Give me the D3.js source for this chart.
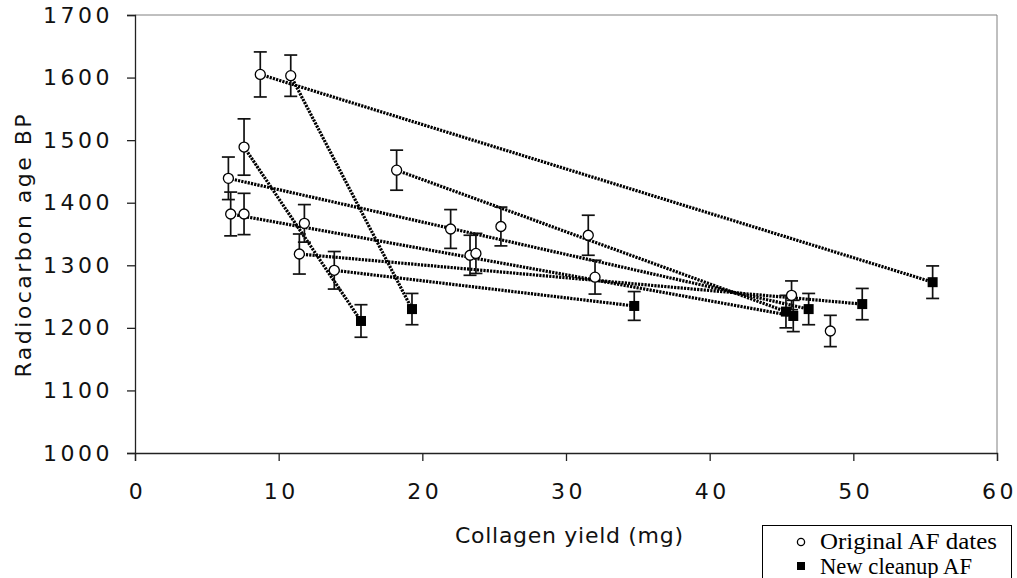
<!DOCTYPE html>
<html>
<head>
<meta charset="utf-8">
<script src="https://cdn.jsdelivr.net/npm/d3@7"></script>
<style>
  html, body { margin: 0; padding: 0; background: #fff; }
  svg { display: block; }
</style>
</head>
<body>
<div id="chart"></div>
<script>
// original AF dates (open circles)
var origX   = [8.72, 10.84, 7.59, 6.50, 6.66, 7.59, 11.79, 11.44, 13.87, 18.21, 21.97, 23.32, 23.73, 25.47, 31.55, 32.02, 45.70, 48.40];
var origY   = [1605, 1603, 1489, 1439, 1382, 1382, 1367, 1318, 1292, 1452, 1358, 1316, 1319, 1362, 1348, 1281, 1252, 1195];
var origErr = [36, 33, 45, 34, 35, 33, 30, 32, 30, 32, 31, 32, 32, 31, 32, 27, 23, 25];

// new cleanup AF dates (filled squares)
var newX   = [15.73, 19.28, 34.75, 45.31, 45.82, 46.89, 50.62, 55.52];
var newY   = [1211, 1230, 1235, 1226, 1219, 1230, 1238, 1273];
var newErr = [26, 25, 23, 26, 25, 25, 25, 26];

// dotted connectors: [original index, new index]
var links = [[0, 7], [1, 1], [2, 0], [3, 5], [9, 3], [4, 4], [7, 6], [8, 2]];

var xTicks = [0, 10, 20, 30, 40, 50, 60];
var yTicks = [1000, 1100, 1200, 1300, 1400, 1500, 1600, 1700];
var legendLabels = ["Original AF dates", "New cleanup AF"];

var W = 1017, H = 578;
var plotLeft = 135, plotRight = 997, plotTop = 15, plotBottom = 453;

var svg = d3.select("#chart").append("svg")
  .attr("width", W)
  .attr("height", H);

var x = d3.scaleLinear().domain([0, 60]).range([plotLeft, plotRight]);
var y = d3.scaleLinear().domain([1000, 1700]).range([plotBottom, plotTop]);

// plot frame (top and right are grey)
svg.append("line").attr("x1", plotLeft).attr("x2", plotRight).attr("y1", plotTop).attr("y2", plotTop)
  .attr("stroke", "#808080").attr("stroke-width", 1);
svg.append("line").attr("x1", plotRight).attr("x2", plotRight).attr("y1", plotTop).attr("y2", plotBottom)
  .attr("stroke", "#808080").attr("stroke-width", 1);

// axes
var xAxis = d3.axisBottom(x).tickValues(xTicks).tickFormat(d3.format("d"))
  .tickSizeOuter(0).tickSize(8).tickPadding(22);
var yAxis = d3.axisLeft(y).tickValues(yTicks).tickFormat(d3.format("d"))
  .tickSizeOuter(0).tickSize(8).tickPadding(12);

var gx = svg.append("g").attr("transform", "translate(0," + plotBottom + ")").call(xAxis);
var gy = svg.append("g").attr("transform", "translate(" + plotLeft + ",0)").call(yAxis);

[gx, gy].forEach(function(g) {
  g.select(".domain").attr("stroke", "#222").attr("stroke-width", 1.3);
  g.selectAll(".tick line").attr("stroke", "#222").attr("stroke-width", 1.3);
  g.selectAll(".tick text")
    .attr("fill", "#111")
    .style("font-family", "'DejaVu Sans', sans-serif")
    .style("font-size", "22px")
    .style("letter-spacing", "3.5px");
});
gx.selectAll(".tick text").attr("dx", "2px");
gy.selectAll(".tick text").attr("dx", "-2px");

// axis titles
svg.append("text")
  .attr("x", 569).attr("y", 543)
  .attr("text-anchor", "middle")
  .attr("textLength", 228).attr("lengthAdjust", "spacing")
  .style("font-family", "'DejaVu Sans', sans-serif")
  .style("font-size", "22px")
  .attr("fill", "#111")
  .text("Collagen yield (mg)");

svg.append("text")
  .attr("transform", "translate(31,246) rotate(-90)")
  .attr("text-anchor", "middle")
  .attr("textLength", 263).attr("lengthAdjust", "spacing")
  .style("font-family", "'DejaVu Sans', sans-serif")
  .style("font-size", "22px")
  .attr("fill", "#111")
  .text("Radiocarbon age BP");

// dotted connector lines
svg.append("g").selectAll("line.link")
  .data(links)
  .join("line")
  .attr("class", "link")
  .attr("x1", function(d) { return x(origX[d[0]]); })
  .attr("y1", function(d) { return y(origY[d[0]]); })
  .attr("x2", function(d) { return x(newX[d[1]]); })
  .attr("y2", function(d) { return y(newY[d[1]]); })
  .attr("stroke", "#000")
  .attr("stroke-width", 3.2)
  .attr("stroke-dasharray", "2.2,1.1");

// error bars
function errorBars(xs, ys, es) {
  var g = svg.append("g").attr("stroke", "#111").attr("stroke-width", 1.7);
  xs.forEach(function(v, i) {
    var cx = x(v), y0 = y(ys[i] - es[i]), y1 = y(ys[i] + es[i]);
    g.append("line").attr("x1", cx).attr("x2", cx).attr("y1", y0).attr("y2", y1);
    g.append("line").attr("x1", cx - 6.5).attr("x2", cx + 6.5).attr("y1", y0).attr("y2", y0);
    g.append("line").attr("x1", cx - 6.5).attr("x2", cx + 6.5).attr("y1", y1).attr("y2", y1);
  });
}
errorBars(origX, origY, origErr);
errorBars(newX, newY, newErr);

// markers
svg.append("g").selectAll("circle")
  .data(origX)
  .join("circle")
  .attr("cx", function(d) { return x(d); })
  .attr("cy", function(d, i) { return y(origY[i]); })
  .attr("r", 5)
  .attr("fill", "#fff")
  .attr("stroke", "#000")
  .attr("stroke-width", 1.3);

svg.append("g").selectAll("rect")
  .data(newX)
  .join("rect")
  .attr("x", function(d) { return x(d) - 5; })
  .attr("y", function(d, i) { return y(newY[i]) - 5; })
  .attr("width", 10)
  .attr("height", 10)
  .attr("fill", "#000");

// legend
var lg = svg.append("g");
lg.append("rect")
  .attr("x", 762.5).attr("y", 525.5)
  .attr("width", 249).attr("height", 70)
  .attr("fill", "#fff").attr("stroke", "#000").attr("stroke-width", 1);
lg.append("circle").attr("cx", 801).attr("cy", 542).attr("r", 3.6)
  .attr("fill", "#fff").attr("stroke", "#000").attr("stroke-width", 1.3);
lg.append("rect").attr("x", 797).attr("y", 562).attr("width", 8).attr("height", 8)
  .attr("fill", "#000");
lg.selectAll("text")
  .data(legendLabels)
  .join("text")
  .attr("x", 820)
  .attr("y", function(d, i) { return 549 + i * 25; })
  .attr("textLength", function(d, i) { return i === 0 ? 177 : 152; })
  .attr("lengthAdjust", "spacingAndGlyphs")
  .style("font-family", "'Liberation Serif', 'Times New Roman', serif")
  .style("font-size", "23px")
  .attr("fill", "#000")
  .text(function(d) { return d; });
</script>
</body>
</html>
